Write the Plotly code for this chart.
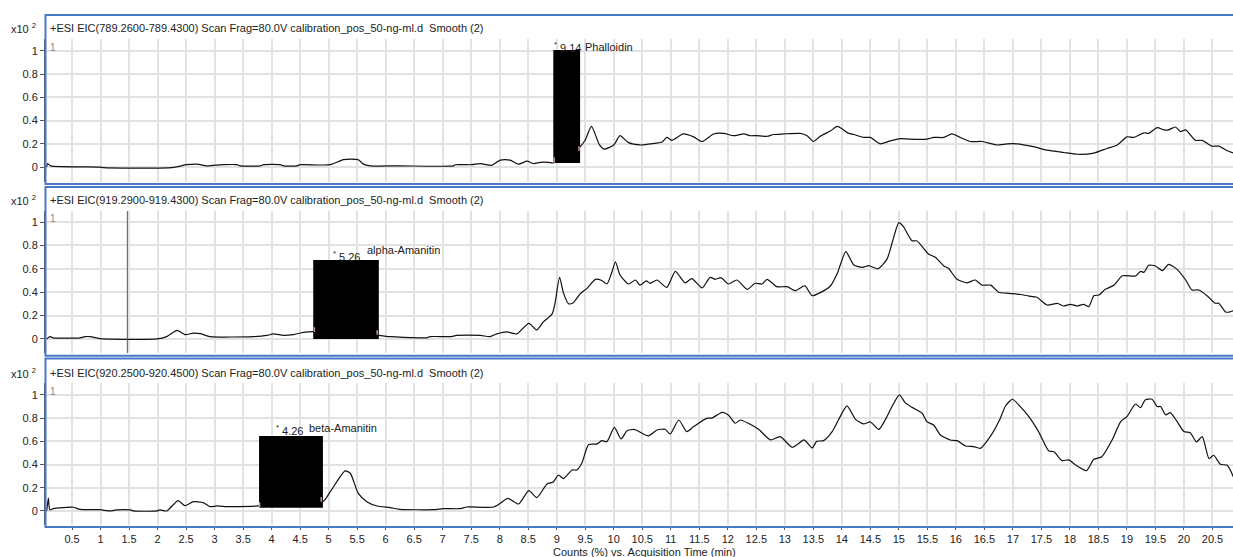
import plotly.graph_objects as go

# ---- EIC traces (time in min, counts in units of x10^2) ----
phalloidin_time = [0.056, 0.07, 0.125, 0.99, 1.05, 2.25, 2.51, 2.69, 2.86, 3.15, 3.39, 3.45, 3.80, 3.86,
                   4.15, 4.21, 4.44, 4.50, 5.03, 5.26, 5.52, 5.61, 5.73, 6.25, 7.19, 7.22, 7.51, 7.66,
                   7.86, 8.01, 8.18, 8.33, 8.48, 8.59, 8.71, 8.86, 8.94, 9.41, 9.50, 9.61, 9.75, 9.83,
                   10.0, 10.11, 10.26, 10.46, 10.64, 10.85, 10.93, 11.02, 11.22, 11.40, 11.55, 11.75,
                   11.93, 12.10, 12.28, 12.39, 12.50, 12.69, 12.80, 12.98, 13.27, 13.39, 13.50, 13.62,
                   13.80, 13.92, 14.12, 14.21, 14.38, 14.50, 14.67, 14.85, 15.03, 15.20, 15.49, 15.61,
                   15.79, 15.93, 16.08, 16.25, 16.46, 16.72, 16.90, 17.07, 17.36, 17.60, 17.89, 18.13,
                   18.42, 18.65, 18.83, 19.00, 19.12, 19.30, 19.38, 19.53, 19.65, 19.73, 19.85, 19.94,
                   20.03, 20.20, 20.32, 20.49, 20.61, 20.76, 20.87]
phalloidin_counts = [0.0, 0.03, 0.01, 0.0, -0.005, -0.005, 0.02, 0.025, 0.01, 0.02, 0.02, 0.01, 0.01, 0.02,
                     0.02, 0.01, 0.01, 0.02, 0.02, 0.063, 0.063, 0.025, 0.01, 0.01, 0.01, 0.02, 0.02, 0.03,
                     0.015, 0.06, 0.06, 0.025, 0.05, 0.03, 0.04, 0.04, 0.035, 0.175, 0.233, 0.35, 0.19, 0.155,
                     0.19, 0.27, 0.21, 0.19, 0.2, 0.215, 0.255, 0.23, 0.285, 0.26, 0.22, 0.285,
                     0.29, 0.27, 0.285, 0.27, 0.27, 0.265, 0.28, 0.285, 0.29, 0.27, 0.22, 0.265,
                     0.31, 0.35, 0.29, 0.28, 0.255, 0.255, 0.2, 0.225, 0.245, 0.24, 0.24, 0.255,
                     0.255, 0.285, 0.255, 0.22, 0.22, 0.19, 0.2, 0.2, 0.175, 0.145, 0.125, 0.11,
                     0.12, 0.16, 0.19, 0.26, 0.255, 0.295, 0.29, 0.34, 0.32, 0.32, 0.345, 0.305,
                     0.32, 0.23, 0.23, 0.18, 0.18, 0.14, 0.12]

alpha_time = [0.056, 0.11, 0.17, 0.64, 0.73, 0.82, 0.99, 1.99, 2.16, 2.34, 2.48, 2.63, 2.75, 2.92, 3.68,
              3.92, 4.03, 4.21, 4.38, 4.56, 4.73, 5.88, 6.08, 6.60, 6.72, 6.78, 7.13, 7.25, 7.66, 7.83,
              7.95, 8.13, 8.30, 8.51, 8.65, 8.77, 8.92, 8.97, 9.05, 9.12, 9.21, 9.29, 9.41, 9.53, 9.68,
              9.79, 9.88, 9.97, 10.03, 10.11, 10.26, 10.38, 10.46, 10.57, 10.64, 10.76, 10.93, 11.08,
              11.25, 11.37, 11.55, 11.69, 11.78, 11.88, 12.01, 12.16, 12.34, 12.48, 12.60, 12.69, 12.86,
              13.04, 13.18, 13.33, 13.36, 13.48, 13.62, 13.80, 13.92, 14.07, 14.21, 14.36, 14.47, 14.63,
              14.79, 14.88, 15.00, 15.08, 15.23, 15.32, 15.52, 15.64, 15.79, 15.87, 16.02, 16.20, 16.34,
              16.46, 16.61, 16.75, 16.93, 17.13, 17.28, 17.42, 17.60, 17.78, 17.89, 18.01, 18.13, 18.24,
              18.33, 18.42, 18.51, 18.62, 18.77, 18.92, 19.15, 19.24, 19.30, 19.38, 19.50, 19.62, 19.73,
              19.88, 20.03, 20.14, 20.26, 20.41, 20.55, 20.61, 20.73, 20.79, 20.87]
alpha_counts = [0.0, 0.02, 0.01, 0.01, 0.02, 0.02, 0.003, 0.0, 0.02, 0.074, 0.037, 0.05, 0.045, 0.02, 0.02,
                0.03, 0.043, 0.03, 0.037, 0.057, 0.063, 0.03, 0.02, 0.01, 0.01, 0.02, 0.02, 0.03, 0.03, 0.02,
                0.043, 0.06, 0.043, 0.134, 0.077, 0.148, 0.214, 0.305, 0.527, 0.39, 0.3, 0.31, 0.385, 0.433, 0.51,
                0.5, 0.47, 0.575, 0.66, 0.547, 0.47, 0.504, 0.46, 0.496, 0.476, 0.504, 0.44, 0.578,
                0.48, 0.516, 0.436, 0.527, 0.51, 0.524, 0.47, 0.504, 0.424, 0.476, 0.47, 0.51, 0.447,
                0.447, 0.413, 0.453, 0.453, 0.37, 0.396, 0.453, 0.56, 0.746, 0.632, 0.612, 0.627, 0.6,
                0.68, 0.818, 0.994, 0.96, 0.84, 0.838, 0.726, 0.698, 0.624, 0.604, 0.51, 0.48, 0.504,
                0.46, 0.46, 0.4, 0.39, 0.38, 0.367, 0.356, 0.29, 0.305, 0.282, 0.296, 0.282, 0.296,
                0.276, 0.37, 0.376, 0.424, 0.459, 0.54, 0.538, 0.578, 0.57, 0.63, 0.624, 0.584, 0.638,
                0.595, 0.504, 0.419, 0.419, 0.368, 0.305, 0.305, 0.23, 0.23, 0.242]

beta_time = [0.056, 0.085, 0.11, 0.17, 0.52, 0.64, 0.99, 1.17, 1.28, 1.52, 1.58, 1.99, 2.04, 2.16, 2.36,
             2.48, 2.63, 2.80, 2.92, 3.04, 3.21, 3.33, 3.78, 4.90, 5.03, 5.29, 5.38, 5.52, 5.67, 5.85,
             6.08, 6.25, 6.84, 7.01, 7.31, 7.42, 7.89, 8.01, 8.14, 8.33, 8.51, 8.65, 8.83, 8.94, 9.03,
             9.12, 9.27, 9.35, 9.44, 9.56, 9.71, 9.79, 9.88, 10.01, 10.13, 10.23, 10.35, 10.41, 10.61,
             10.76, 10.90, 10.99, 11.14, 11.28, 11.40, 11.64, 11.72, 11.90, 12.01, 12.13, 12.22, 12.36,
             12.54, 12.75, 12.92, 13.13, 13.33, 13.36, 13.48, 13.56, 13.68, 13.83, 13.94, 14.09, 14.24,
             14.38, 14.50, 14.65, 14.76, 14.88, 15.01, 15.11, 15.23, 15.41, 15.49, 15.61, 15.73, 15.90,
             16.02, 16.17, 16.31, 16.43, 16.61, 16.78, 16.87, 16.99, 17.13, 17.28, 17.45, 17.63, 17.72,
             17.86, 17.98, 18.10, 18.29, 18.42, 18.56, 18.74, 18.89, 19.00, 19.15, 19.24, 19.32, 19.44,
             19.53, 19.59, 19.68, 19.76, 19.88, 20.00, 20.11, 20.22, 20.32, 20.44, 20.52, 20.64, 20.76,
             20.87]
beta_counts = [0.0, 0.11, 0.01, 0.02, 0.032, 0.014, 0.011, 0.0, 0.009, 0.009, 0.0, 0.0, 0.009, 0.0, 0.089,
               0.046, 0.08, 0.072, 0.037, 0.043, 0.037, 0.037, 0.043, 0.08, 0.167, 0.345, 0.325, 0.152, 0.08, 0.043,
               0.029, 0.014, 0.011, 0.02, 0.02, 0.034, 0.034, 0.066, 0.109, 0.06, 0.175, 0.115, 0.233, 0.25, 0.31,
               0.279, 0.353, 0.353, 0.411, 0.572, 0.578, 0.606, 0.598, 0.721, 0.621, 0.69, 0.704, 0.693, 0.647,
               0.698, 0.704, 0.664, 0.784, 0.684, 0.727, 0.8, 0.8, 0.85, 0.828, 0.756, 0.784, 0.756,
               0.704, 0.612, 0.641, 0.549, 0.612, 0.606, 0.543, 0.6, 0.606, 0.684, 0.784, 0.905, 0.79,
               0.75, 0.767, 0.704, 0.784, 0.9, 1.0, 0.934, 0.894, 0.842, 0.77, 0.741, 0.655, 0.612,
               0.606, 0.56, 0.555, 0.54, 0.647, 0.8, 0.905, 0.963, 0.9, 0.813, 0.684, 0.517, 0.511,
               0.434, 0.44, 0.397, 0.348, 0.445, 0.468, 0.612, 0.77, 0.813, 0.922, 0.891, 0.957, 0.963,
               0.9, 0.9, 0.828, 0.848, 0.77, 0.684, 0.675, 0.595, 0.641, 0.451, 0.48, 0.402, 0.394,
               0.29]

panel_titles = [
    "+ESI EIC(789.2600-789.4300) Scan Frag=80.0V calibration_pos_50-ng-ml.d &nbsp;Smooth (2)",
    "+ESI EIC(919.2900-919.4300) Scan Frag=80.0V calibration_pos_50-ng-ml.d &nbsp;Smooth (2)",
    "+ESI EIC(920.2500-920.4500) Scan Frag=80.0V calibration_pos_50-ng-ml.d &nbsp;Smooth (2)",
]
compound_names = ["Phalloidin", "alpha-Amanitin", "beta-Amanitin"]
retention_times = [9.14, 5.26, 4.26]
# label heights (counts) for the RT number and for the compound name
rt_label_y = [1.034, 0.709, 0.698]
name_label_y = [1.034, 0.763, 0.716]
name_label_x = [9.465, 5.64, 4.62]
# integration windows covered by the peak boxes: (t start, t end, low, high)
peak_boxes = [(8.94, 9.41, 0.034, 1.009), (4.73, 5.88, 0.0, 0.675), (3.78, 4.90, 0.028, 0.647)]
# integration start / end markers: (t, low, high)
start_marks = [(8.955, 0.035, 0.085), (4.75, 0.06, 0.10), (3.79, 0.03, 0.075)]
end_marks = [(9.39, 0.14, 0.18), (5.85, 0.035, 0.075), (4.87, 0.08, 0.12)]
cursor_time = 1.47

x_ticks = [i * 0.5 for i in range(1, 42)]
x_ticktext = [("%g" % v) for v in x_ticks]
y_ticks = [0, 0.2, 0.4, 0.6, 0.8, 1]
y_ticktext = ["0", "0.2", "0.4", "0.6", "0.8", "1"]

# ---- page geometry (pixels) ----
W, H = 1233, 557
FONT = "Liberation Sans, Arial, sans-serif"
BLUE = "#4a78c8"
GRID = "#e2e2e2"
MARK = "#c99a9a"


def py(p):
    return 1 - p / H


plot_rows = [(39, 182), (211, 353), (383, 525)]
y_ranges = [[-0.129, 1.103], [-0.12, 1.094], [-0.121, 1.103]]
frames = [(15, 184), (187, 355.7), (358.5, 527)]
title_y = [28, 200, 373]

fig = go.Figure()
series = [(phalloidin_time, phalloidin_counts), (alpha_time, alpha_counts), (beta_time, beta_counts)]
for i, (t, c) in enumerate(series):
    fig.add_trace(go.Scatter(
        x=t, y=c, mode="lines",
        line=dict(color="#111111", width=1.2, shape="spline", smoothing=0.6),
        xaxis="x" if i == 0 else "x%d" % (i + 1),
        yaxis="y" if i == 0 else "y%d" % (i + 1),
        showlegend=False, hoverinfo="skip",
    ))

layout = dict(
    width=W, height=H, margin=dict(l=0, r=0, t=0, b=0),
    paper_bgcolor="white", plot_bgcolor="white",
    font=dict(family=FONT, size=11, color="#222222"),
    showlegend=False,
)
shapes = []
annotations = []
for i in range(3):
    xa = "xaxis" if i == 0 else "xaxis%d" % (i + 1)
    ya = "yaxis" if i == 0 else "yaxis%d" % (i + 1)
    xref = "x" if i == 0 else "x%d" % (i + 1)
    yref = "y" if i == 0 else "y%d" % (i + 1)
    top, bot = plot_rows[i]
    last = i == 2
    layout[xa] = dict(
        domain=[45 / W, 1], range=[0.026, 20.86], anchor=yref,
        tickvals=x_ticks, ticktext=x_ticktext, showticklabels=last,
        ticks="outside" if last else "", ticklen=4, tickcolor="#555555",
        showgrid=True, gridcolor=GRID, gridwidth=1.5, zeroline=False,
        showline=False, tickfont=dict(family=FONT, size=11, color="#222222"),
    )
    layout[ya] = dict(
        domain=[py(bot), py(top)], range=y_ranges[i], anchor=xref,
        tickvals=y_ticks, ticktext=y_ticktext, ticks="outside", ticklen=4,
        tickcolor="#555555", showgrid=True, gridcolor=GRID, gridwidth=1.5,
        zeroline=False, showline=True, linecolor="#555555", linewidth=1,
        tickfont=dict(family=FONT, size=11, color="#222222"),
    )
    # panel frame
    f0, f1 = frames[i]
    shapes.append(dict(type="rect", xref="paper", yref="paper",
                       x0=45.5 / W, x1=1.01, y0=py(f1), y1=py(f0),
                       line=dict(color=BLUE, width=2), layer="above"))
    # peak box
    b = peak_boxes[i]
    shapes.append(dict(type="rect", xref=xref, yref=yref, x0=b[0], x1=b[1], y0=b[2], y1=b[3],
                       fillcolor="black", line=dict(width=0), layer="above"))
    # integration markers
    for m in (start_marks[i], end_marks[i]):
        shapes.append(dict(type="line", xref=xref, yref=yref, x0=m[0], x1=m[0], y0=m[1], y1=m[2],
                           line=dict(color=MARK, width=1.5), layer="above"))
    # title and scale
    annotations.append(dict(text=panel_titles[i], xref="paper", yref="paper",
                            x=48 / W, y=py(title_y[i]), xanchor="left", yanchor="middle",
                            showarrow=False, font=dict(family=FONT, size=11, color="#222222")))
    annotations.append(dict(text="x10 <sup>2</sup>", xref="paper", yref="paper",
                            x=38 / W, y=py(title_y[i]), xanchor="right", yanchor="middle",
                            showarrow=False, font=dict(family=FONT, size=11, color="#222222")))
    annotations.append(dict(text="1", xref="paper", yref="paper",
                            x=48 / W, y=py(top + 8), xanchor="left", yanchor="middle",
                            showarrow=False, font=dict(family=FONT, size=10, color="#888888")))
    # peak labels
    annotations.append(dict(text="<sup>*</sup> %.2f" % retention_times[i], xref=xref, yref=yref,
                            x=retention_times[i] + 0.05, y=rt_label_y[i], xanchor="center",
                            yanchor="middle", showarrow=False,
                            font=dict(family=FONT, size=11, color="#222222")))
    annotations.append(dict(text=compound_names[i], xref=xref, yref=yref,
                            x=name_label_x[i], y=name_label_y[i], xanchor="left", yanchor="middle",
                            showarrow=False, font=dict(family=FONT, size=11, color="#222222")))

# cursor line in the alpha-Amanitin panel
shapes.append(dict(type="line", xref="x2", yref="y2 domain", x0=cursor_time, x1=cursor_time,
                   y0=0, y1=1, line=dict(color="#555555", width=1)))

annotations.append(dict(text="Counts (%) vs. Acquisition Time (min)", xref="paper", yref="paper",
                        x=644 / W, y=py(552), xanchor="center", yanchor="middle", showarrow=False,
                        font=dict(family=FONT, size=11, color="#222222")))

layout["shapes"] = shapes
layout["annotations"] = annotations
fig.update_layout(**layout)
fig.write_html("out.html")
